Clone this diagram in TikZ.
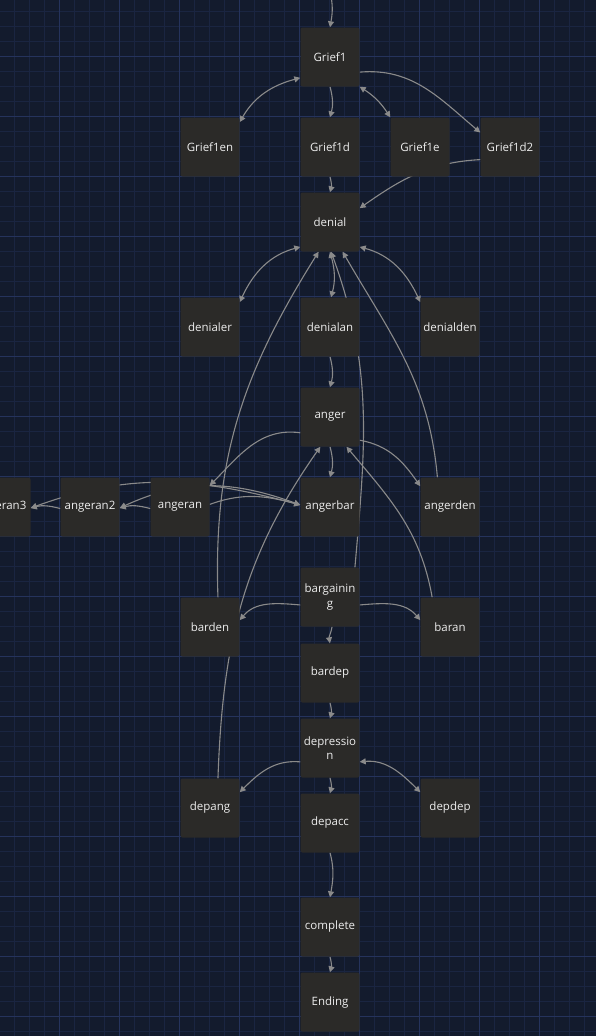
\documentclass[tikz,border=0pt]{standalone}
\usepackage{fontspec}
\setmainfont{Open Sans}
\usetikzlibrary{arrows.meta}
\definecolor{fondo}{HTML}{131B2D}
\definecolor{rejilla}{HTML}{1A2541}
\definecolor{rejillamayor}{HTML}{25335C}
\definecolor{caja}{HTML}{2B2A28}
\definecolor{flecha}{HTML}{8A8A8A}
\definecolor{texto}{HTML}{EDEDED}
\pgfdeclarelayer{fondocapa}
\pgfdeclarelayer{aristas}
\pgfsetlayers{fondocapa,aristas,main}

\begin{document}
\begin{tikzpicture}[x=1pt, y=-1pt,
    estado/.style={rectangle, rounded corners=2pt, fill=caja, text=texto,
        minimum width=59pt, minimum height=59pt, inner sep=1pt, align=center,
        font=\fontsize{11.5}{14.5}\selectfont},
    arista/.style={draw=flecha, line width=1.1pt, -{Triangle[length=6pt,width=6pt]}},
    doble/.style={arista, {Triangle[length=6pt,width=6pt]}-{Triangle[length=6pt,width=6pt]}}]
    \useasboundingbox (0,0) rectangle (596,1036);
    \clip (0,0) rectangle (596,1036);
    % Fondo y rejilla
    \begin{pgfonlayer}{fondocapa}
        \fill[fondo] (0,0) rectangle (596,1036);
        \foreach \x in {14.5,29.5,...,590} {
            \draw[rejilla, line width=0.8pt] (\x,0) -- (\x,1036);
        }
        \foreach \y in {11.7,26.7,...,1036} {
            \draw[rejilla, line width=0.8pt] (0,\y) -- (596,\y);
        }
        \foreach \x in {59.5,119.5,...,590} {
            \draw[rejillamayor, line width=1.1pt] (\x,0) -- (\x,1036);
        }
        \foreach \y in {56.7,116.7,...,1036} {
            \draw[rejillamayor, line width=1.1pt] (0,\y) -- (596,\y);
        }
    \end{pgfonlayer}
    % Estados
    \coordinate (inicio) at (331,-4);
    \node[estado] (Grief1) at (330,57) {Grief1};
    \node[estado] (Grief1en) at (210,147) {Grief1en};
    \node[estado] (Grief1d) at (330,147) {Grief1d};
    \node[estado] (Grief1e) at (420,147) {Grief1e};
    \node[estado] (Grief1d2) at (510,147) {Grief1d2};
    \node[estado] (denial) at (330,222) {denial};
    \node[estado] (denialer) at (210,327) {denialer};
    \node[estado] (denialan) at (330,327) {denialan};
    \node[estado] (denialden) at (450,327) {denialden};
    \node[estado] (anger) at (330,417) {anger};
    \node[estado] (angeran3) at (1,507) {angeran3};
    \node[estado] (angeran2) at (90,507) {angeran2};
    \node[estado] (angeran) at (180,507) {angeran};
    \node[estado] (angerbar) at (330,507) {angerbar};
    \node[estado] (angerden) at (450,507) {angerden};
    \node[estado] (bargaining) at (330,597) {bargainin\\g};
    \node[estado] (barden) at (210,627) {barden};
    \node[estado] (baran) at (450,627) {baran};
    \node[estado] (bardep) at (330,673) {bardep};
    \node[estado] (depression) at (330,748) {depressio\\n};
    \node[estado] (depang) at (210,808) {depang};
    \node[estado] (depdep) at (450,808) {depdep};
    \node[estado] (depacc) at (330,823) {depacc};
    \node[estado] (complete) at (330,927) {complete};
    \node[estado] (Ending) at (330,1002) {Ending};
    % Transiciones
    \begin{pgfonlayer}{aristas}
        \draw[arista] (inicio) to[out=-80,in=80] (Grief1.90);
        \draw[doble] (Grief1.215) to[out=195,in=60] (Grief1en.40);
        \draw[arista] (Grief1.-90) to[out=-75,in=75] (Grief1d.90);
        \draw[doble] (Grief1.south east) to[bend left=12] (Grief1e.north west);
        \draw[arista] (Grief1.-27) to[out=5,in=140] (Grief1d2.154);
        \draw[arista] (Grief1d.-90) to[out=-75,in=75] (denial.90);
        \draw[arista] (Grief1d2.203) to[out=183,in=35] (denial.25);
        \draw[doble] (denial.220) to[out=195,in=65] (denialer.40);
        \draw[doble] (denial.-90) to[out=-75,in=75] (denialan.88);
        \draw[doble] (denial.-40) to[out=-15,in=115] (denialden.140);
        \draw[arista] (denialan.-90) to[out=-75,in=75] (anger.90);
        \draw[arista] (bargaining.50) to[out=85,in=-70] (denial.-88);
        \draw[arista] (barden.75) to[out=92,in=-122] (denial.-111);
        \draw[arista] (angerden.113) to[out=95,in=-60] (denial.-67);
        \draw[arista] (anger.-90) to[out=-75,in=75] (angerbar.90);
        \draw[arista] (anger.-38) to[out=-10,in=125] (angerden.145);
        \draw[arista] (anger.208) to[out=172,in=45] (angeran.36);
        \draw[arista] (angeran.5) to[out=20,in=165] (angerbar.176);
        \draw[doble] (angeran2.-2) to[out=25,in=160] (angerbar.176);
        \draw[doble] (angeran3.-2) to[out=20,in=165] (angerbar.176);
        \draw[arista] (angeran.183) to[out=165,in=15] (angeran2.-2);
        \draw[arista] (angeran2.183) to[out=165,in=15] (angeran3.-2);
        \draw[arista] (depang.75) to[out=88,in=-125] (anger.-108);
        \draw[arista] (baran.121) to[out=100,in=-50] (anger.-61);
        \draw[arista] (bargaining.195) to[out=175,in=50] (barden.13);
        \draw[arista] (bargaining.-15) to[out=5,in=130] (baran.167);
        \draw[arista] (bargaining.-86) to[out=-100,in=100] (bardep.90);
        \draw[arista] (bardep.-90) to[out=-75,in=75] (depression.90);
        \draw[arista] (depression.205) to[out=175,in=45] (depang.28);
        \draw[doble] (depression.-25) to[out=5,in=135] (depdep.152);
        \draw[arista] (depression.-90) to[out=-75,in=75] (depacc.90);
        \draw[arista] (depacc.-90) to[out=-75,in=80] (complete.90);
        \draw[arista] (complete.-90) to[out=-75,in=75] (Ending.90);
    \end{pgfonlayer}
\end{tikzpicture}
\end{document}
